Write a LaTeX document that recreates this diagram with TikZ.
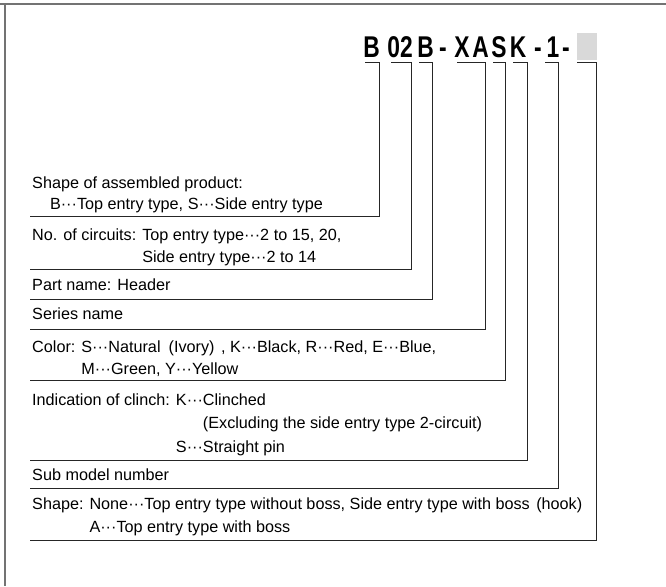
\documentclass[tikz,border=0pt]{standalone}
\usepackage{fontspec}
\setmainfont{Liberation Sans}
\newcommand{\dts}{···}
\newcommand{\cd}[1]{\scalebox{0.76}[1]{\bfseries #1}}
\begin{document}
\begin{tikzpicture}[x=1pt,y=-1pt,
  frame/.style={draw=black!55,line width=1.4pt},
  lead/.style={draw=black!85,line width=0.9pt},
  txt/.style={anchor=base west,inner sep=0pt,font=\fontsize{16.2}{19}\selectfont},
  code/.style={anchor=base,inner sep=0pt,font=\fontsize{30}{34}\selectfont}]
\useasboundingbox (0,0) rectangle (666,586);
\draw[frame] (0,4) -- (666,4);
\draw[frame] (5,4) -- (5,586);
% title codes
\node[code] (c1) at (371.5,58) {\cd{B}};
\node[code] (c2) at (400,58) {\cd{02}};
\node[code] (c3) at (425.5,58) {\cd{B}};
\node[code] (d1) at (443,58) {\cd{-}};
\node[code] (c4) at (462,58) {\cd{X}};
\node[code] (c5) at (480.5,58) {\cd{A}};
\node[code] (c6) at (499,58) {\cd{S}};
\node[code] (c7) at (518,58) {\cd{K}};
\node[code] (d2) at (538,58) {\cd{-}};
\node[code] (c8) at (553,58) {\cd{1}};
\node[code] (d3) at (566,58) {\cd{-}};
\node[fill=black!15,minimum width=20pt,minimum height=27pt,inner sep=0pt] (c9) at (586.5,46.5) {};
% leader tick starts
\coordinate (a1) at (365,62.5);
\coordinate (a2) at (391,62.5);
\coordinate (a3) at (419,62.5);
\coordinate (a4) at (457,62.5);
\coordinate (a5) at (493,62.5);
\coordinate (a6) at (513,62.5);
\coordinate (a7) at (545,62.5);
\coordinate (a8) at (577,62.5);
% leader ends
\coordinate (e1) at (30,216);
\coordinate (e2) at (30,269);
\coordinate (e3) at (30,299);
\coordinate (e4) at (30,329);
\coordinate (e5) at (30,380);
\coordinate (e6) at (30,460);
\coordinate (e7) at (30,488);
\coordinate (e8) at (30,540);
\draw[lead] (a1) -- (379,62.5) -- (379,216) -- (e1);
\draw[lead] (a2) -- (411,62.5) -- (411,269) -- (e2);
\draw[lead] (a3) -- (432,62.5) -- (432,299) -- (e3);
\draw[lead] (a4) -- (485,62.5) -- (485,329) -- (e4);
\draw[lead] (a5) -- (505,62.5) -- (505,380) -- (e5);
\draw[lead] (a6) -- (527,62.5) -- (527,460) -- (e6);
\draw[lead] (a7) -- (558,62.5) -- (558,488) -- (e7);
\draw[lead] (a8) -- (596,62.5) -- (596,540) -- (e8);
% texts
\node[txt] (l1a) at (32,188) {Shape of assembled product:};
\node[txt] (l1b) at (32,209) {\hspace{1.1em}B\dts Top entry type, S\dts Side entry type};
\node[txt] (l2a) at (32,240) {No. of circuits: Top entry type\dts 2 to 15, 20,};
\node[txt] (l2b) at (32,262) {\phantom{No. of circuits: }Side entry type\dts 2 to 14};
\node[txt] (l3) at (32,290) {Part name: Header};
\node[txt] (l4) at (32,319) {Series name};
\node[txt] (l5a) at (32,352) {Color: S\dts Natural\hspace{0.5em}(Ivory)\hspace{0.4em}, K\dts Black, R\dts Red, E\dts Blue,};
\node[txt] (l5b) at (32,374) {\phantom{Color: }M\dts Green, Y\dts Yellow};
\node[txt] (l6a) at (32,405) {Indication of clinch: K\dts Clinched};
\node[txt] (l6b) at (32,428) {\phantom{Indication of clinch: K\dts}(Excluding the side entry type 2-circuit)};
\node[txt] (l6c) at (32,452) {\phantom{Indication of clinch: }S\dts Straight pin};
\node[txt] (l7) at (32,480) {Sub model number};
\node[txt] (l8a) at (32,509) {Shape: None\dts Top entry type without boss, Side entry type with boss\hspace{0.4em}(hook)};
\node[txt] (l8b) at (32,532) {\phantom{Shape: }A\dts Top entry type with boss};
\end{tikzpicture}
\end{document}
